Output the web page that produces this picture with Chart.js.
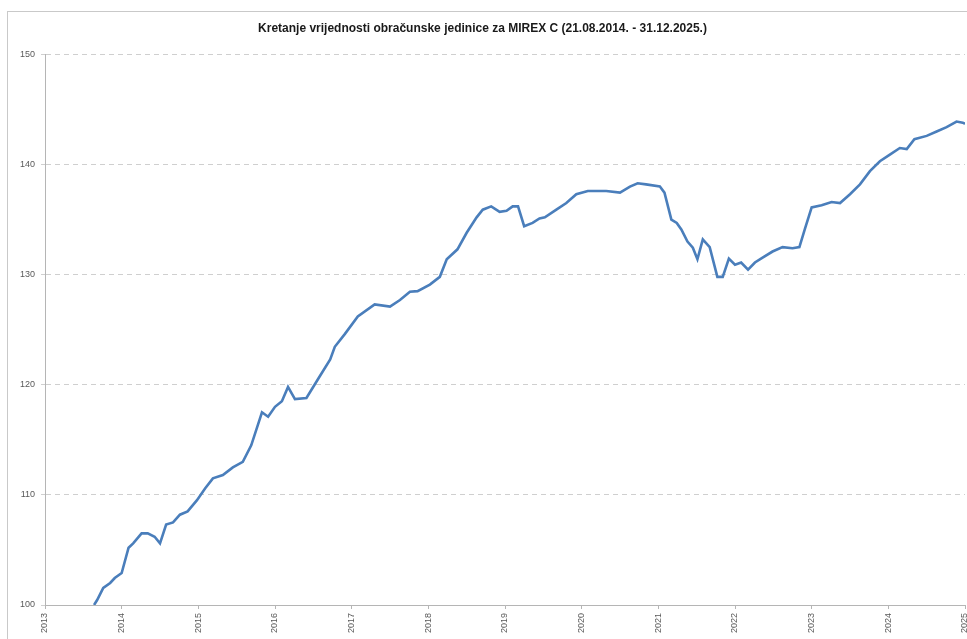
<!DOCTYPE html>
<html>
<head>
<meta charset="utf-8">
<script src="https://cdn.jsdelivr.net/npm/chart.js@4.4.0/dist/chart.umd.min.js"></script>
<style>
  html, body { margin: 0; padding: 0; background: #fff; }
  #wrap { position: relative; width: 967px; height: 639px; overflow: hidden; }
  #frame { position: absolute; left: 7px; top: 11px; width: 980px; height: 640px;
           border-left: 1px solid #c9c9c9; border-top: 1px solid #c9c9c9; pointer-events: none; }
  canvas { position: absolute; left: 0; top: 0; }
</style>
</head>
<body>
<div id="wrap">
  <canvas id="mirexChart" width="967" height="639"></canvas>
  <div id="frame"></div>
</div>
<script>
// x-axis labels (each tick is the end of that year)
const yearLabels = ['2013', '2014', '2015', '2016', '2017', '2018', '2019',
                    '2020', '2021', '2022', '2023', '2024', '2025'];
const yTicks = [100, 110, 120, 130, 140, 150];

// time in years after the first tick
const times = [
  0.64, 0.68, 0.76, 0.85, 0.91, 1.00, 1.09, 1.15, 1.26, 1.34, 1.43, 1.50, 1.58, 1.67,
  1.76, 1.86, 1.98, 2.09, 2.19, 2.32, 2.45, 2.58, 2.69, 2.83, 2.91, 3.00, 3.09, 3.17,
  3.26, 3.41, 3.56, 3.72, 3.78, 3.91, 4.08, 4.30, 4.50, 4.63, 4.76, 4.86, 5.02, 5.15,
  5.24, 5.38, 5.50, 5.63, 5.71, 5.82, 5.93, 6.02, 6.10, 6.17, 6.25, 6.36, 6.45, 6.52,
  6.67, 6.80, 6.93, 7.08, 7.19, 7.32, 7.50, 7.63, 7.73, 7.84, 8.02, 8.08, 8.17, 8.24,
  8.30, 8.38, 8.45, 8.51, 8.58, 8.67, 8.77, 8.84, 8.92, 9.00, 9.08, 9.17, 9.26, 9.36,
  9.49, 9.62, 9.75, 9.84, 9.91, 10.00, 10.13, 10.26, 10.37, 10.50, 10.63, 10.76, 10.89,
  11.02, 11.15, 11.24, 11.34, 11.50, 11.63, 11.76, 11.89, 11.97, 12.00
];
// unit value of MIREX C
const values = [
  100.0, 100.45, 101.55, 102.0, 102.45, 102.9, 105.2, 105.6, 106.5, 106.5, 106.2, 105.6, 107.3, 107.5,
  108.2, 108.5, 109.5, 110.6, 111.5, 111.8, 112.5, 113.0, 114.5, 117.5, 117.1, 118.0, 118.5, 119.8,
  118.7, 118.8, 120.5, 122.3, 123.45, 124.6, 126.2, 127.3, 127.1, 127.7, 128.45, 128.5, 129.1, 129.8,
  131.4, 132.3, 133.8, 135.2, 135.9, 136.2, 135.7, 135.8, 136.2, 136.2, 134.4, 134.7, 135.1, 135.2,
  135.9, 136.5, 137.3, 137.6, 137.6, 137.6, 137.45, 138.0, 138.3, 138.2, 138.0, 137.45, 135.0, 134.7,
  134.1, 133.0, 132.45, 131.4, 133.2, 132.5, 129.8, 129.8, 131.45, 130.9, 131.1, 130.45, 131.1, 131.55,
  132.1, 132.5, 132.4, 132.5, 134.1, 136.1, 136.3, 136.6, 136.5, 137.3, 138.2, 139.4, 140.3,
  140.9, 141.5, 141.4, 142.3, 142.6, 143.0, 143.4, 143.9, 143.8, 143.7
];

const points = times.map((t, i) => ({ x: t, y: values[i] }));

const ctx = document.getElementById('mirexChart');
new Chart(ctx, {
    type: 'line',
    data: {
        datasets: [{
            label: 'MIREX C',
            data: points,
            borderColor: '#4a7ebb',
            borderWidth: 2.6,
            pointRadius: 0,
            tension: 0,
            fill: false
        }]
    },
    options: {
        responsive: false,
        animation: false,
        layout: { padding: { left: 0, right: 2, top: 0, bottom: 0 } },
        plugins: {
            legend: { display: false },
            tooltip: { enabled: false },
            title: {
                display: true,
                text: 'Kretanje vrijednosti obračunske jedinice za MIREX C (21.08.2014. - 31.12.2025.)',
                color: '#1a1a1a',
                font: { family: 'Liberation Sans', size: 12, weight: 'bold' },
                padding: { top: 21, bottom: 19 }
            }
        },
        scales: {
            x: {
                type: 'linear',
                min: 0,
                max: yearLabels.length - 1,
                afterBuildTicks: (axis) => {
                    axis.ticks = yearLabels.map((_, i) => ({ value: i }));
                },
                afterFit: (axis) => {
                    axis.height = 34;
                    axis.paddingLeft = 0;
                    axis.paddingRight = 0;
                },
                ticks: {
                    autoSkip: false,
                    maxRotation: 90,
                    minRotation: 90,
                    color: '#595959',
                    font: { family: 'Liberation Sans', size: 9 },
                    padding: 4,
                    callback: (v) => yearLabels[v]
                },
                grid: { drawOnChartArea: false, drawTicks: true, tickLength: 4, color: '#b5b5b5' },
                border: { color: '#b5b5b5', width: 1 }
            },
            y: {
                min: yTicks[0],
                max: yTicks[yTicks.length - 1],
                afterBuildTicks: (axis) => {
                    axis.ticks = yTicks.map(v => ({ value: v }));
                },
                afterFit: (axis) => { axis.width = 45; },
                ticks: {
                    color: '#595959',
                    font: { family: 'Liberation Sans', size: 9 },
                    padding: 6
                },
                grid: { color: '#cfcfcf', tickLength: 4, drawTicks: true },
                border: { color: '#b5b5b5', width: 1, dash: [5, 4] }
            }
        }
    }
});
</script>
</body>
</html>
